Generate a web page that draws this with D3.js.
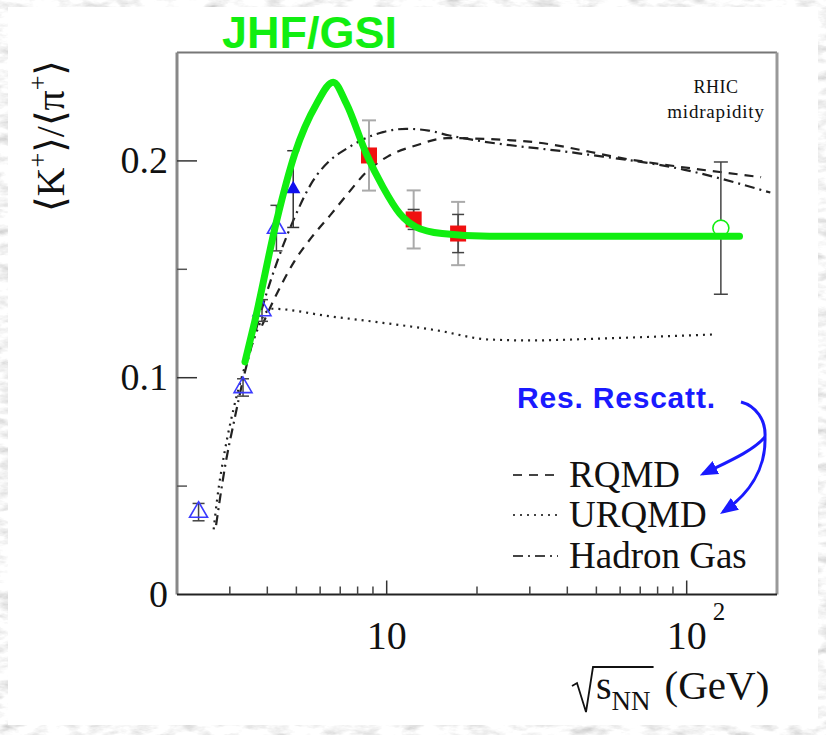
<!DOCTYPE html>
<html>
<head>
<meta charset="utf-8">
<script src="https://cdn.jsdelivr.net/npm/d3@7"></script>
<style>
  html, body { margin: 0; padding: 0; background: #fff; }
  svg { display: block; }
</style>
</head>
<body>
<svg id="chart" width="826" height="735"></svg>
<script>
// ---- data: K+/pi+ ratio vs sqrt(s_NN) ----
// AGS, open triangles
const agsE   = [2.36, 3.32, 3.84, 4.29];
const agsR   = [0.038, 0.0955, 0.131, 0.169];
const agsErr = [0.004, 0.004, 0.005, 0.0105];
// AGS top energy, filled triangle
const agsTopE   = [4.88];
const agsTopR   = [0.187];
const agsTopErr = [0.0177];
// SPS NA49, red squares (stat + sys)
const na49E    = [8.73, 12.3, 17.3];
const na49R    = [0.2025, 0.173, 0.1665];
const na49Stat = [0.003, 0.0046, 0.0088];
const na49Sys  = [0.0162, 0.0134, 0.0146];
// RHIC midrapidity, open circle
const rhicE   = [130];
const rhicR   = [0.169];
const rhicErr = [0.0305];

// JHF/GSI expectation (thick green)
const jhfE = [3.37, 3.64, 4.30, 4.94, 5.84, 6.63, 7.34, 8.55, 9.72, 11.05, 12.54, 15.3, 22.0, 40, 80, 150];
const jhfR = [0.1073, 0.1265, 0.1726, 0.2033, 0.2264, 0.2363, 0.2264, 0.2033, 0.1879, 0.1757, 0.1695, 0.1665, 0.1652, 0.1652, 0.1652, 0.1652];
// RQMD (dashed)
const rqmdE = [3.84, 4.25, 4.94, 5.69, 6.55, 7.34, 8.55, 10.1, 12.5, 15.9, 29.2, 65.6, 177];
const rqmdR = [0.124, 0.1372, 0.154, 0.1657, 0.1757, 0.1841, 0.1948, 0.2021, 0.2071, 0.2105, 0.209, 0.2005, 0.1925];
// URQMD (dotted)
const urqmdE = [2.65, 2.72, 2.89, 3.08, 3.29, 3.60, 3.93, 4.15, 6.47, 9.72, 14.6, 22.0, 30, 50, 125];
const urqmdR = [0.030, 0.0436, 0.0666, 0.085, 0.1004, 0.1173, 0.1296, 0.1318, 0.1283, 0.1253, 0.1219, 0.1176, 0.1172, 0.118, 0.120];
// Hadron gas (dash-dot)
const hgE = [2.7, 2.9, 3.1, 3.32, 3.6, 3.84, 4.3, 4.9, 5.69, 6.47, 7.34, 8.2, 9.72, 11.6, 13.8, 16.2, 19.8, 43.6, 97.7, 190];
const hgR = [0.032, 0.06, 0.08, 0.099, 0.118, 0.132, 0.153, 0.173, 0.191, 0.2002, 0.2056, 0.2094, 0.2133, 0.2148, 0.214, 0.2117, 0.2095, 0.2035, 0.196, 0.1854];

// axis ticks
const yMajor = [0, 0.1, 0.2];
const yMinor = [0.05, 0.15];
const yTickLabels = ["0", "0.1", "0.2"];
const xMajor = [10, 100];
const xMinor = [3, 4, 5, 6, 7, 8, 9, 20, 30, 40, 50, 60, 70, 80, 90];

const legendNames = ["RQMD", "URQMD", "Hadron Gas"];

// ---- layout ----
const svg = d3.select("#chart");
const W = 826, H = 735;
const plot = { left: 177, right: 777, top: 52.5, bottom: 594.5 };
const serif = "'Liberation Serif', 'Times New Roman', 'DejaVu Serif', serif";
const sans = "'Liberation Sans', Arial, sans-serif";
const green = "#11ee11";
const blue = "#1a1aff";

const x = d3.scaleLog().domain([2, 200]).range([plot.left, plot.right]);
const y = d3.scaleLinear().domain([0, 0.25]).range([plot.bottom, plot.top]);

// marble backdrop
const defs = svg.append("defs");
const f = defs.append("filter").attr("id", "marble")
  .attr("filterUnits", "userSpaceOnUse")
  .attr("x", 0).attr("y", 0).attr("width", W).attr("height", H);
f.append("feTurbulence").attr("type", "fractalNoise")
  .attr("baseFrequency", "0.045 0.11").attr("numOctaves", 4).attr("seed", 7);
f.append("feColorMatrix").attr("type", "matrix")
  .attr("values", "0.75 0.35 0 0 0.38  0.75 0.35 0 0 0.38  0.75 0.35 0 0 0.38  0 0 0 0 1");
svg.append("rect").attr("width", W).attr("height", H).attr("fill", "#d9d9d9")
  .attr("filter", "url(#marble)");
svg.append("rect").attr("x", 8).attr("y", 7).attr("width", 810).attr("height", 718).attr("fill", "#fff");

// frame
const frame = svg.append("g");
frame.append("line").attr("x1", plot.left).attr("x2", plot.right).attr("y1", plot.top).attr("y2", plot.top)
  .attr("stroke", "#777").attr("stroke-width", 2);
frame.append("line").attr("x1", plot.right).attr("x2", plot.right).attr("y1", plot.top).attr("y2", plot.bottom)
  .attr("stroke", "#999").attr("stroke-width", 3);
frame.append("line").attr("x1", plot.left).attr("x2", plot.left).attr("y1", plot.top).attr("y2", plot.bottom)
  .attr("stroke", "#888").attr("stroke-width", 3);
frame.append("line").attr("x1", plot.left).attr("x2", plot.right).attr("y1", plot.bottom).attr("y2", plot.bottom)
  .attr("stroke", "#222").attr("stroke-width", 2);

// y ticks
const yAxis = svg.append("g");
yAxis.selectAll("line.maj").data(yMajor.slice(1)).join("line")
  .attr("x1", plot.left).attr("x2", plot.left + 20).attr("y1", d => y(d)).attr("y2", d => y(d))
  .attr("stroke", "#333").attr("stroke-width", 1.5);
yAxis.selectAll("line.min").data(yMinor).join("line")
  .attr("x1", plot.left).attr("x2", plot.left + 10).attr("y1", d => y(d)).attr("y2", d => y(d))
  .attr("stroke", "#555").attr("stroke-width", 1.5);
yAxis.selectAll("text").data(yMajor).join("text")
  .attr("x", 168).attr("y", d => y(d) + 12).attr("text-anchor", "end")
  .attr("font-family", serif).attr("font-size", 38).attr("fill", "#111")
  .text((d, i) => yTickLabels[i]);

// x ticks
const xAxis = svg.append("g");
xAxis.selectAll("line.maj").data(xMajor).join("line")
  .attr("x1", d => x(d)).attr("x2", d => x(d)).attr("y1", plot.bottom).attr("y2", plot.bottom - 14)
  .attr("stroke", "#333").attr("stroke-width", 1.5);
xAxis.selectAll("line.min").data(xMinor).join("line")
  .attr("x1", d => x(d)).attr("x2", d => x(d)).attr("y1", plot.bottom).attr("y2", plot.bottom - 8)
  .attr("stroke", "#444").attr("stroke-width", 1.5);
xAxis.append("text").attr("x", x(10)).attr("y", 649).attr("text-anchor", "middle")
  .attr("font-family", serif).attr("font-size", 40).attr("fill", "#111").text("10");
xAxis.append("text").attr("x", x(100)).attr("y", 649).attr("text-anchor", "middle")
  .attr("font-family", serif).attr("font-size", 40).attr("fill", "#111").text("10");
xAxis.append("text").attr("x", x(100) + 26).attr("y", 620).attr("text-anchor", "start")
  .attr("font-family", serif).attr("font-size", 25).attr("fill", "#111").text("2");

// x title: sqrt(s_NN) (GeV)
const xt = svg.append("g");
const sTxt = xt.append("text").attr("x", 596).attr("y", 699)
  .attr("font-family", serif).attr("font-size", 40).attr("fill", "#111");
sTxt.append("tspan").text("s");
sTxt.append("tspan").attr("font-size", 27).attr("dy", 11).text("NN");
const sEnd = sTxt.node().getBBox();
xt.append("text").attr("x", sEnd.x + sEnd.width + 14).attr("y", 699)
  .attr("font-family", serif).attr("font-size", 41).attr("fill", "#111").text("(GeV)");
xt.append("path")
  .attr("d", `M572,686 L577,683 L586,712 L593,667 L${sEnd.x + sEnd.width + 3},667`)
  .attr("fill", "none").attr("stroke", "#111").attr("stroke-width", 1.8);

// y title
const yt = svg.append("text")
  .attr("transform", "translate(64,212) rotate(-90)")
  .attr("font-family", serif).attr("font-size", 40).attr("fill", "#111");
yt.append("tspan").text("\u27E8K");
yt.append("tspan").attr("font-size", 26).attr("dy", -18).text("+");
yt.append("tspan").attr("dy", 18).text("\u27E9/\u27E8\u03C0");
yt.append("tspan").attr("font-size", 26).attr("dy", -18).text("+");
yt.append("tspan").attr("dy", 18).text("\u27E9");

// model curves
const lineGen = d3.line().x(d => x(d[0])).y(d => y(d[1])).curve(d3.curveMonotoneX);
const curves = svg.append("g").attr("fill", "none").attr("stroke", "#222").attr("stroke-width", 2.2);
curves.append("path").datum(d3.zip(rqmdE, rqmdR)).attr("d", lineGen).attr("stroke-dasharray", "9,7");
curves.append("path").datum(d3.zip(urqmdE, urqmdR)).attr("d", lineGen).attr("stroke-dasharray", "2,5");
curves.append("path").datum(d3.zip(hgE, hgR)).attr("d", lineGen).attr("stroke-dasharray", "10,5,2,5");

// error bars helper
function errBars(g, E, R, err, color, cap, width) {
  const data = d3.zip(E, R, err);
  g.selectAll(null).data(data).join("line")
    .attr("x1", d => x(d[0])).attr("x2", d => x(d[0]))
    .attr("y1", d => y(d[1] + d[2])).attr("y2", d => y(d[1] - d[2]))
    .attr("stroke", color).attr("stroke-width", width);
  [1, -1].forEach(s => {
    g.selectAll(null).data(data).join("line")
      .attr("x1", d => x(d[0]) - cap).attr("x2", d => x(d[0]) + cap)
      .attr("y1", d => y(d[1] + s * d[2])).attr("y2", d => y(d[1] + s * d[2]))
      .attr("stroke", color).attr("stroke-width", width);
  });
}

const pts = svg.append("g");
errBars(pts, na49E, na49R, na49Sys, "#aaa", 7, 2);
errBars(pts, na49E, na49R, na49Stat, "#444", 6, 1.5);
errBars(pts, rhicE, rhicR, rhicErr, "#444", 7, 1.5);
errBars(pts, agsE, agsR, agsErr, "#444", 6, 1.5);
errBars(pts, agsTopE, agsTopR, agsTopErr, "#333", 6, 1.5);

const tri = d3.symbol().type(d3.symbolTriangle).size(140);
pts.selectAll("path.ags").data(d3.zip(agsE, agsR)).join("path")
  .attr("transform", d => `translate(${x(d[0])},${y(d[1])})`)
  .attr("d", tri).attr("fill", "none").attr("stroke", "#3b3bff").attr("stroke-width", 1.6);
pts.selectAll("path.agsTop").data(d3.zip(agsTopE, agsTopR)).join("path")
  .attr("transform", d => `translate(${x(d[0])},${y(d[1])})`)
  .attr("d", d3.symbol().type(d3.symbolTriangle).size(90)).attr("fill", "#1010ee");
pts.selectAll("rect.na49").data(d3.zip(na49E, na49R)).join("rect")
  .attr("x", d => x(d[0]) - 8).attr("y", d => y(d[1]) - 8).attr("width", 16).attr("height", 16)
  .attr("fill", "#f01010");
pts.selectAll("circle.rhic").data(d3.zip(rhicE, rhicR)).join("circle")
  .attr("cx", d => x(d[0])).attr("cy", d => y(d[1])).attr("r", 8)
  .attr("fill", "#fff").attr("stroke", green).attr("stroke-width", 1.6);

// JHF/GSI curve
svg.append("path").datum(d3.zip(jhfE, jhfR))
  .attr("d", d3.line().x(d => x(d[0])).y(d => y(d[1])).curve(d3.curveMonotoneX))
  .attr("fill", "none").attr("stroke", green).attr("stroke-width", 7)
  .attr("stroke-linecap", "round").attr("stroke-linejoin", "round");

// title
svg.append("text").attr("x", 222).attr("y", 48)
  .attr("font-family", sans).attr("font-weight", "bold").attr("font-size", 45)
  .attr("fill", green).text("JHF/GSI");

// RHIC label
svg.append("text").attr("x", 716).attr("y", 93).attr("text-anchor", "middle")
  .attr("font-family", serif).attr("font-size", 18).attr("letter-spacing", 0.5).attr("fill", "#111").text("RHIC");
svg.append("text").attr("x", 716).attr("y", 118).attr("text-anchor", "middle")
  .attr("font-family", serif).attr("font-size", 19).attr("letter-spacing", 0.8).attr("fill", "#111").text("midrapidity");

// legend
const leg = svg.append("g");
const legY = [487, 527, 568];
const legDash = ["9,7", "2,5", "10,5,2,5"];
legendNames.forEach((name, i) => {
  leg.append("line").attr("x1", 513).attr("x2", 558).attr("y1", legY[i] - 12).attr("y2", legY[i] - 12)
    .attr("stroke", "#444").attr("stroke-width", 2).attr("stroke-dasharray", legDash[i]);
  leg.append("text").attr("x", 569).attr("y", legY[i])
    .attr("font-family", serif).attr("font-size", 37).attr("fill", "#111").text(name);
});

// resonance rescattering annotation
svg.append("text").attr("x", 517).attr("y", 408)
  .attr("font-family", sans).attr("font-weight", "bold").attr("font-size", 30)
  .attr("letter-spacing", 0.8).attr("fill", blue).text("Res. Rescatt.");
defs.append("marker").attr("id", "arrow").attr("viewBox", "0 0 10 10")
  .attr("refX", 8).attr("refY", 5).attr("markerWidth", 6).attr("markerHeight", 6)
  .attr("markerUnits", "strokeWidth")
  .attr("orient", "auto").append("path").attr("d", "M0,1 L10,5 L0,9 z").attr("fill", blue);
const arr = svg.append("g").attr("fill", "none").attr("stroke", blue).attr("stroke-width", 3);
arr.append("path").attr("d", "M741,402 C756,406 766,420 765,437");
arr.append("path").attr("d", "M765,437 C752,452 725,463 703,474").attr("marker-end", "url(#arrow)");
arr.append("path").attr("d", "M765,437 C766,470 748,495 723,512").attr("marker-end", "url(#arrow)");
</script>
</body>
</html>
